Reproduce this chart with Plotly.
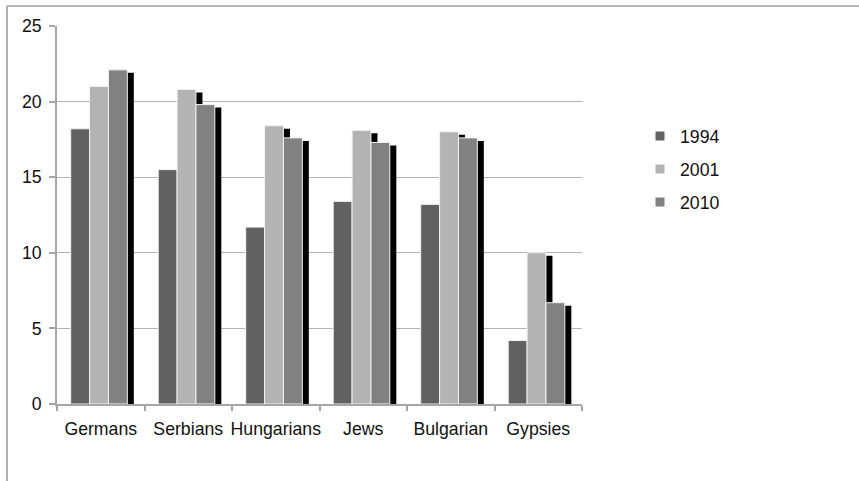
import plotly.graph_objects as go

# Survey scores by group and year
groups = ["Germans", "Serbians", "Hungarians", "Jews", "Bulgarian", "Gypsies"]
years = ["1994", "2001", "2010"]
v1994 = [18.2, 15.5, 11.7, 13.4, 13.2, 4.2]
v2001 = [21.0, 20.8, 18.4, 18.1, 18.0, 10.0]
v2010 = [22.1, 19.8, 17.6, 17.3, 17.6, 6.7]
y_ticks = [0, 5, 10, 15, 20, 25]

series = [v1994, v2001, v2010]
colors = ["#616161", "#b3b3b3", "#818181"]

# Figure geometry (px)
W, H = 859, 481
ML, MR, MT, MB = 57, 277, 26, 77
PW, PH = W - ML - MR, H - MT - MB
Y_MAX = 25

# Bar layout in category units
slot = 0.2157
start = -0.3434
# Drop shadow offset (px) converted to axis units
SH_DX_PX, SH_DY_PX = 6.5, 3.0
sh_dx = SH_DX_PX / (PW / len(groups))
sh_dy = SH_DY_PX / (PH / Y_MAX)

FONT = "Liberation Sans, Arial, sans-serif"

fig = go.Figure()

# Shadows first so every bar sits above them
for i, vals in enumerate(series):
    fig.add_trace(go.Bar(
        x=groups, y=vals, base=[-sh_dy] * len(vals),
        width=slot, offset=start + i * slot + sh_dx,
        marker=dict(color="#000000", line=dict(width=0)),
        showlegend=False, hoverinfo="skip",
    ))

for i, (name, vals) in enumerate(zip(years, series)):
    fig.add_trace(go.Bar(
        x=groups, y=vals, name=name,
        width=slot, offset=start + i * slot,
        marker=dict(color=colors[i], line=dict(color="#f2f2f2", width=1)),
        showlegend=False,
    ))

# Legend entries with small square keys
for i, name in enumerate(years):
    fig.add_trace(go.Scatter(
        x=[None], y=[None], mode="markers", name=name, legendgroup=name,
        marker=dict(symbol="square", size=9, color=colors[i]),
    ))

# Outer frame (top and left edges)
fx = (7 - ML) / PW
fy_top = (H - MB - 6) / PH
fy_bot = (H - MB - H) / PH
frame = dict(color="#9c9c9c", width=1.6)
fig.add_shape(type="line", xref="paper", yref="paper",
              x0=fx, x1=(W - ML) / PW, y0=fy_top, y1=fy_top, line=frame)
fig.add_shape(type="line", xref="paper", yref="paper",
              x0=fx, x1=fx, y0=fy_top, y1=fy_bot, line=frame)

fig.update_layout(
    width=W, height=H,
    margin=dict(l=ML, r=MR, t=MT, b=MB, autoexpand=False),
    barmode="overlay",
    plot_bgcolor="white", paper_bgcolor="white",
    font=dict(family=FONT, size=17.7, color="#111111"),
    showlegend=True,
    legend=dict(
        x=(640 - ML) / PW, y=(H - MB - 118) / PH,
        xanchor="left", yanchor="top",
        font=dict(size=17.7), tracegroupgap=7,
        bgcolor="rgba(0,0,0,0)",
    ),
    xaxis=dict(
        type="category", range=[-0.5, len(groups) - 0.5],
        showline=True, linecolor="#a6a6a6", linewidth=1.5,
        ticks="outside", tickson="boundaries", ticklen=5,
        tickcolor="#a6a6a6", tickwidth=1.5, tickangle=0,
        showgrid=False, ticklabelstandoff=8, automargin=False,
    ),
    yaxis=dict(
        range=[0, Y_MAX], tickvals=y_ticks,
        showline=True, linecolor="#a6a6a6", linewidth=1.5,
        ticks="outside", ticklen=6, tickcolor="#a6a6a6", tickwidth=1.5,
        showgrid=True, gridcolor="#b4b4b4", gridwidth=1.3,
        zeroline=False, ticklabelstandoff=4, automargin=False,
    ),
)

fig.write_html("out.html")
